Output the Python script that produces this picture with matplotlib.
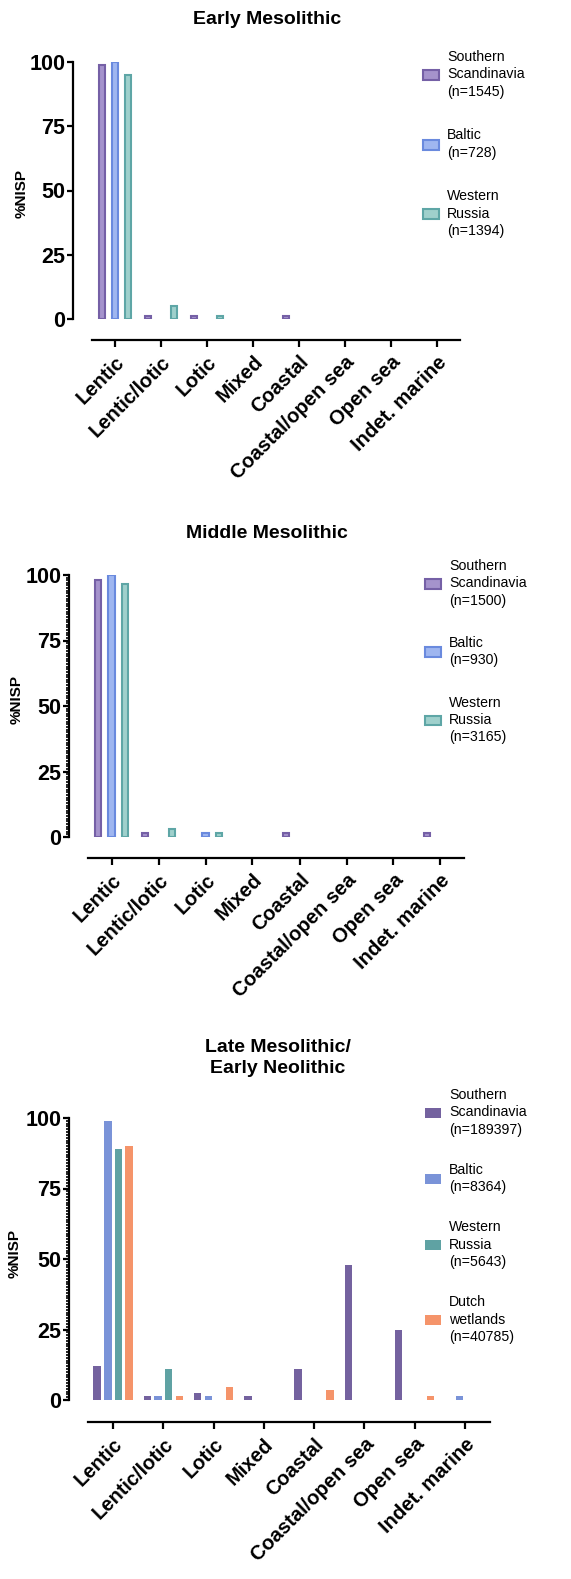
import numpy as np
import matplotlib
matplotlib.use("Agg")
import matplotlib.pyplot as plt
from matplotlib.ticker import MultipleLocator

plt.rcParams["font.family"] = ["Liberation Sans", "DejaVu Sans"]

categories = ["Lentic", "Lentic/lotic", "Lotic", "Mixed", "Coastal",
              "Coastal/open sea", "Open sea", "Indet. marine"]

# Early Mesolithic
early_labels = ["Southern\nScandinavia\n(n=1545)", "Baltic\n(n=728)", "Western\nRussia\n(n=1394)"]
early_ss = [99, 1, 1, 0, 1, 0, 0, 0]
early_bal = [100, 0, 0, 0, 0, 0, 0, 0]
early_wr = [95, 5, 1, 0, 0, 0, 0, 0]

# Middle Mesolithic
middle_labels = ["Southern\nScandinavia\n(n=1500)", "Baltic\n(n=930)", "Western\nRussia\n(n=3165)"]
middle_ss = [98, 1.5, 0, 0, 1.5, 0, 0, 1.5]
middle_bal = [100, 0, 1.5, 0, 0, 0, 0, 0]
middle_wr = [96.5, 3, 1.5, 0, 0, 0, 0, 0]

# Late Mesolithic / Early Neolithic
late_labels = ["Southern\nScandinavia\n(n=189397)", "Baltic\n(n=8364)",
               "Western\nRussia\n(n=5643)", "Dutch\nwetlands\n(n=40785)"]
late_ss = [12, 1.5, 2.5, 1.5, 11, 48, 25, 0]
late_bal = [99, 1.5, 1.5, 0, 0, 0, 0, 1.5]
late_wr = [89, 11, 0, 0, 0, 0, 0, 0]
late_dutch = [90, 1.5, 4.5, 0, 3.5, 0, 1.5, 0]

edge_cols = ["#7560a6", "#6a8ade", "#5ea6a6"]
face_cols = ["#a593cc", "#9fb6f0", "#9fd0cc"]
solid_cols = ["#74629f", "#7a93d8", "#5fa2a3", "#f5946a"]

W, H = 571, 1579
fig = plt.figure(figsize=(W / 100, H / 100), dpi=100)


def px_axes(x0, x1, y_top, y_bot):
    return fig.add_axes([x0 / W, 1 - y_bot / H, (x1 - x0) / W, (y_bot - y_top) / H])


def style(ax, yoff, xoff, minor):
    for s in ["top", "right"]:
        ax.spines[s].set_visible(False)
    ax.spines["left"].set_position(("outward", yoff))
    ax.spines["bottom"].set_position(("outward", xoff))
    ax.spines["left"].set_linewidth(1.6)
    ax.spines["bottom"].set_linewidth(1.6)
    ax.set_xlim(-0.5, 7.5)
    ax.set_ylim(0, 100)
    ax.spines["left"].set_bounds(0, 100)
    ax.set_yticks([0, 25, 50, 75, 100])
    ax.tick_params(axis="y", labelsize=15.5, width=1.6, length=4, pad=1)
    ax.tick_params(axis="x", labelsize=14.5, width=1.6, length=5, pad=4)
    if minor:
        ax.yaxis.set_minor_locator(MultipleLocator(1))
        ax.tick_params(axis="y", which="minor", length=2, width=1.2)
    for t in ax.get_yticklabels():
        t.set_fontweight("bold")
    ax.set_xticks(np.arange(len(categories)))
    ax.set_xticklabels(categories, rotation=45, ha="right", rotation_mode="anchor",
                       fontweight="bold")


def grouped(ax, series, labels, hollow, bw):
    n = len(series)
    slot = 0.85 / n
    x = np.arange(len(categories))
    for i, vals in enumerate(series):
        pos = x + (i - (n - 1) / 2) * slot
        vals = np.asarray(vals, dtype=float)
        if hollow:
            lws = [1.5 if v > 0 else 0 for v in vals]
            ax.bar(pos, vals, width=bw, color=face_cols[i], edgecolor=edge_cols[i],
                   linewidth=lws, label=labels[i])
        else:
            ax.bar(pos, vals, width=bw, color=solid_cols[i], linewidth=0, label=labels[i])


def legend(ax, x, y, spacing):
    leg = ax.legend(loc="upper left", bbox_to_anchor=(x / W, 1 - y / H),
                    bbox_transform=fig.transFigure, frameon=False, fontsize=10.2,
                    handlelength=1.1, handleheight=0.7, labelspacing=spacing,
                    handletextpad=0.6, borderpad=0)
    for t in leg.get_texts():
        t.set_linespacing(1.3)


# Panel 1
ax1 = px_axes(92, 460, 62, 319)
grouped(ax1, [early_ss, early_bal, early_wr], early_labels, True, 0.14)
style(ax1, 14, 15, False)
legend(ax1, 416, 43, 2.1)
fig.text(267 / W, 1 - 20 / H, "Early Mesolithic", ha="center", va="center",
         fontsize=14, fontweight="bold")
fig.text(22 / W, 1 - 193 / H, "%NISP", ha="center", va="center", rotation=90,
         fontsize=11, fontweight="bold")

# Panel 2
ax2 = px_axes(88, 464, 575, 837)
grouped(ax2, [middle_ss, middle_bal, middle_wr], middle_labels, True, 0.14)
style(ax2, 14, 15, True)
legend(ax2, 418, 552, 2.0)
fig.text(267 / W, 1 - 533 / H, "Middle Mesolithic", ha="center", va="center",
         fontsize=14, fontweight="bold")
fig.text(17 / W, 1 - 700 / H, "%NISP", ha="center", va="center", rotation=90,
         fontsize=11, fontweight="bold")

# Panel 3
ax3 = px_axes(88, 490, 1118, 1400)
grouped(ax3, [late_ss, late_bal, late_wr, late_dutch], late_labels, False, 0.15)
style(ax3, 14, 16, True)
legend(ax3, 418, 1081, 1.85)
fig.text(278 / W, 1 - 1058 / H, "Late Mesolithic/\nEarly Neolithic", ha="center", va="center",
         fontsize=14, fontweight="bold", linespacing=1.25)
fig.text(15 / W, 1 - 1253 / H, "%NISP", ha="center", va="center", rotation=90,
         fontsize=11, fontweight="bold")

fig.savefig("out.png", dpi=100)
